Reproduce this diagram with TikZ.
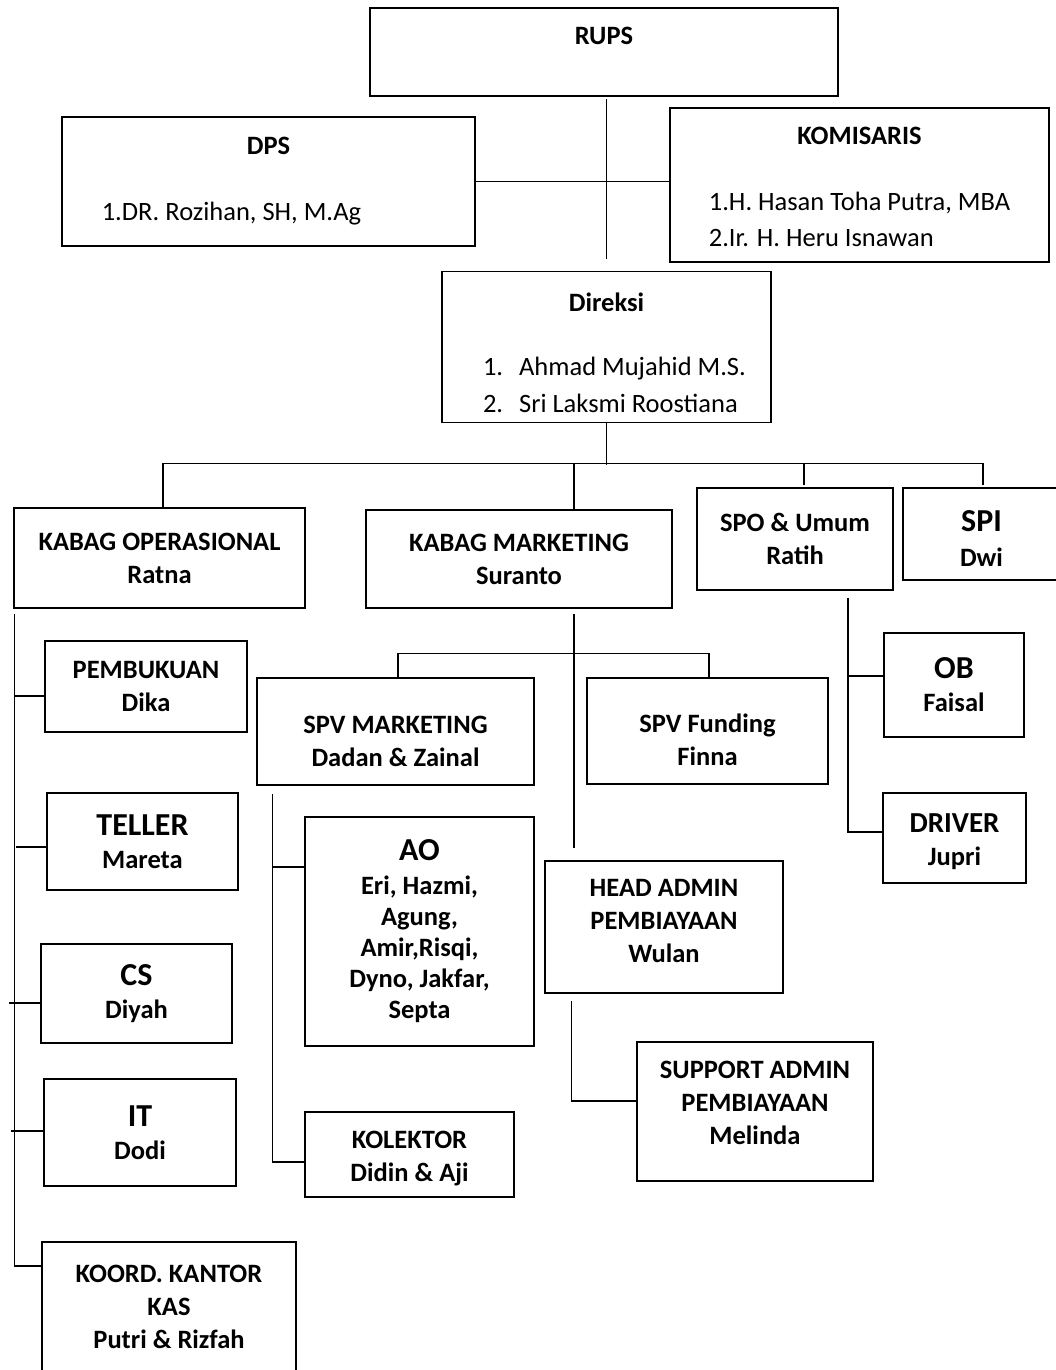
\documentclass[tikz,border=0pt]{standalone}
\usepackage{fontspec}
\setmainfont{Carlito}
\usepackage{tikz}
\newcommand{\headtxt}[1]{{\fontsize{32}{36}\selectfont #1}}
\newcommand{\pushdown}[1]{\rule{0pt}{#1}}
\newcommand{\pushup}[1]{\rule[-#1]{0pt}{0pt}}
\tikzset{
  box/.style={draw,rectangle,line width=1.5pt,inner sep=0pt,align=center,font=\fontsize{26.5}{33}\selectfont\bfseries},
  link/.style={line width=1.5pt}
}

\begin{document}
\begin{tikzpicture}[x=1pt,y=-1pt]
\useasboundingbox (0,0) rectangle (1055,1370);
\node (rups) [box,minimum width=468pt,minimum height=88pt] at (604,52) {RUPS\\\mbox{}};
\node (dps) [box,minimum width=413pt,minimum height=129pt] at (268.5,181.5) {DPS\\[33pt]\mdseries 1.DR. Rozihan, SH, M.Ag\hspace*{74pt}};
\node (kom) [box,minimum width=379pt,minimum height=154pt] at (859.5,185) {\pushdown{30pt}KOMISARIS\\[33pt]\mdseries\begin{tabular}[t]{@{}l@{}}1.H. Hasan Toha Putra, MBA\\[3pt]2.Ir. H. Heru Isnawan\end{tabular}};
\node (dir) [box,minimum width=329pt,minimum height=150pt] at (606.5,347) {\pushdown{40pt}Direksi\\[31pt]\mdseries\hspace*{16pt}\begin{tabular}[t]{@{}l@{\hspace{16pt}}l@{}}1.&Ahmad Mujahid M.S.\\[4pt]2.&Sri Laksmi Roostiana\end{tabular}};
\node (kop) [box,minimum width=291pt,minimum height=100pt] at (159.5,558) {KABAG OPERASIONAL\\Ratna};
\node (kmk) [box,minimum width=306pt,minimum height=98pt] at (519,559) {KABAG MARKETING\\Suranto};
\node (spo) [box,minimum width=196pt,minimum height=102pt] at (795,539) {SPO \& Umum\\Ratih};
\node (spi) [box,minimum width=157pt,minimum height=92pt] at (981.5,534) {\pushdown{30pt}\headtxt{SPI}\\[2pt]Dwi};
\node (pemb) [box,minimum width=202pt,minimum height=91pt] at (146,686.5) {PEMBUKUAN\\Dika};
\node (tell) [box,minimum width=191pt,minimum height=97pt] at (142.5,841.5) {\headtxt{TELLER}\\Mareta};
\node (cs) [box,minimum width=191pt,minimum height=99pt] at (136.5,993.5) {\headtxt{CS}\\Diyah};
\node (it) [box,minimum width=192pt,minimum height=107pt] at (140,1132.5) {\headtxt{IT}\\Dodi};
\node (koord) [box,minimum width=254pt,minimum height=130pt] at (169,1307) {KOORD. KANTOR\\KAS\\Putri \& Rizfah};
\node (spvm) [box,minimum width=277pt,minimum height=107pt] at (395.5,731.5) {\pushdown{37pt}SPV MARKETING\\Dadan \& Zainal};
\node (spvf) [box,minimum width=241pt,minimum height=106pt] at (707.5,731) {\pushdown{37pt}SPV Funding\\Finna};
\node (ao) [box,minimum width=229pt,minimum height=229pt,font=\fontsize{26.5}{31}\selectfont\bfseries] at (419.5,931.5) {\headtxt{AO}\\[3pt]Eri, Hazmi,\\Agung,\\Amir,Risqi,\\Dyno, Jakfar,\\Septa};
\node (kol) [box,minimum width=209pt,minimum height=85pt] at (409.5,1154.5) {\pushdown{25pt}KOLEKTOR\\Didin \& Aji};
\node (head) [box,minimum width=238pt,minimum height=132pt] at (664,927) {HEAD ADMIN\\PEMBIAYAAN\\Wulan\pushup{12pt}};
\node (sup) [box,minimum width=236pt,minimum height=139pt] at (755,1111.5) {SUPPORT ADMIN\\PEMBIAYAAN\\Melinda\pushup{17pt}};
\node (ob) [box,minimum width=140pt,minimum height=104pt] at (954,685) {\headtxt{OB}\\Faisal};
\node (drv) [box,minimum width=143pt,minimum height=90pt] at (954.5,838) {\pushdown{27pt}{\fontsize{29}{33}\selectfont DRIVER}\\Jupri};

% top part
\draw [link] (dir.north) ++(0,-12) -- ++(0,-160);
\draw [link] (dps.east) -- (dps.east -| kom.west);
\draw [link] (dir.south) -- ++(0,42);
\draw [link] ([xshift=3.5pt]kop.north) -- ++(0,-44) -| ([xshift=1.5pt,yshift=2pt]spi.north);
\draw [link] ([xshift=55pt]kmk.north) -- ++(0,-46);
\draw [link] ([xshift=9pt,yshift=2pt]spo.north) -- ++(0,-22);

% operasional
\draw [link] ([xshift=1pt,yshift=-5pt]kop.south west) |- ([yshift=41pt]koord.west);
\draw [link] ([yshift=-9.5pt]pemb.west) -- ++(-30,0);
\draw [link] ([yshift=-5.5pt]tell.west) -- ++(-30,0);
\draw [link] ([yshift=-9.5pt]cs.west) -- ++(-31,0);
\draw [link] ([yshift=1.5pt]it.west) -- ++(-32,0);

% marketing
\draw [link] ([xshift=55pt,yshift=-5pt]kmk.south) -- ++(0,234);
\draw [link] ([xshift=2.5pt]spvm.north) -- ++(0,-24) -| ([xshift=1.5pt]spvf.north);
\draw [link] ([xshift=16pt,yshift=-8pt]spvm.south west) |- ([yshift=-7.5pt]kol.west);
\draw [link] ([yshift=64.5pt]ao.west) -- ++(-32,0);
\draw [link] ([xshift=27pt,yshift=-7pt]head.south west) |- ([yshift=10.5pt]sup.west);

% spo
\draw [link] ([xshift=53pt,yshift=-7pt]spo.south) |- ([yshift=6pt]drv.west);
\draw [link] ([yshift=9pt]ob.west) -- ++(-36,0);
\end{tikzpicture}
\end{document}
